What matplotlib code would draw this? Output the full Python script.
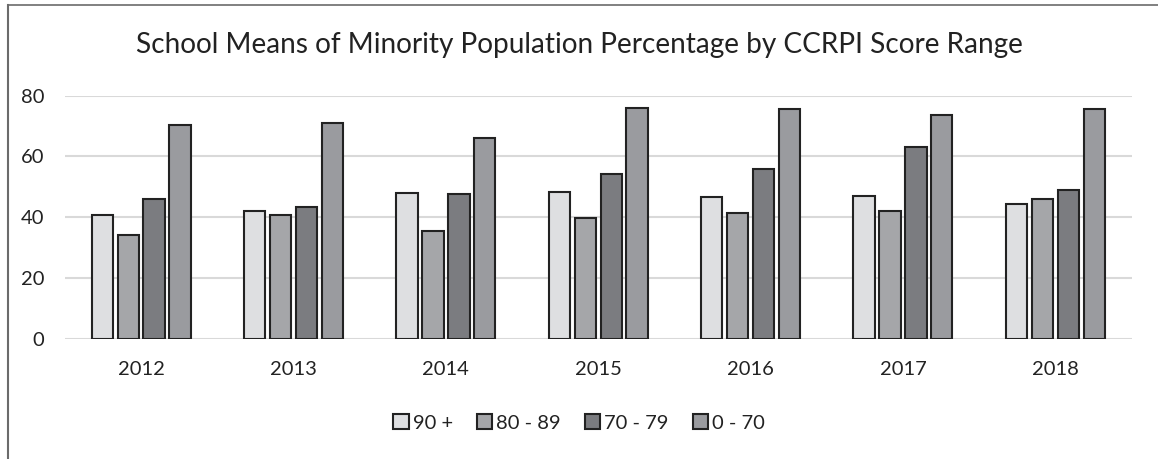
import numpy as np
import matplotlib.pyplot as plt
from matplotlib.lines import Line2D

plt.rcParams['font.family'] = ['Lato', 'DejaVu Sans']

years = ['2012', '2013', '2014', '2015', '2016', '2017', '2018']
ranges = ['90 +', '80 - 89', '70 - 79', '0 - 70']
score_90 = [40.7, 42.0, 48.0, 48.4, 46.6, 47.0, 44.3]
score_80 = [34.0, 40.7, 35.5, 39.9, 41.4, 42.0, 46.0]
score_70 = [46.1, 43.3, 47.8, 54.1, 55.9, 63.2, 48.8]
score_0 = [70.3, 71.1, 66.0, 75.8, 75.6, 73.7, 75.5]
colors = ['#dedfe1', '#a5a6a9', '#7b7c80', '#9a9b9f']

W, H = 1158, 459
fig = plt.figure(figsize=(W / 100, H / 100), dpi=100)
ax = fig.add_axes([65 / W, 120.3 / H, 1066.5 / W, 243 / H])

x = np.arange(len(years))
step = 0.17
bw = 0.14
series = [score_90, score_80, score_70, score_0]
for i, vals in enumerate(series):
    ax.bar(x + (i - 1.5) * step, vals, width=bw, color=colors[i],
           edgecolor='#222222', linewidth=1.5, label=ranges[i], zorder=3)

ax.set_xlim(-0.5, len(years) - 0.5)
ax.set_ylim(0, 80)
ax.set_yticks([0, 20, 40, 60, 80])
ax.set_xticks(x)
ax.set_xticklabels(years)
ax.tick_params(axis='both', length=0, labelsize=14.5, colors='#222222')
ax.tick_params(axis='y', pad=15)
ax.tick_params(axis='x', pad=16)
ax.grid(axis='y', color='#d9d9d9', linewidth=1.5, zorder=0)
for s in ax.spines.values():
    s.set_visible(False)

fig.text(0.5, 1 - 45 / H, 'School Means of Minority Population Percentage by CCRPI Score Range',
         ha='center', va='center', fontsize=20.2, color='#222222')

fig.legend(loc='center', bbox_to_anchor=(0.5, 1 - 423 / H), ncol=4, frameon=False,
           fontsize=14.5, handlelength=0.75, handleheight=0.75, handletextpad=0.2,
           columnspacing=1.2, labelcolor='#222222')

# chart frame (top and left edges)
fig.add_artist(Line2D([8 / W, 8 / W], [0, 1 - 5 / H], transform=fig.transFigure,
                      color='#6b6b6b', linewidth=1.5))
fig.add_artist(Line2D([8 / W, 1], [1 - 5 / H, 1 - 5 / H], transform=fig.transFigure,
                      color='#6b6b6b', linewidth=1.2))

fig.savefig('out.png', dpi=100)
